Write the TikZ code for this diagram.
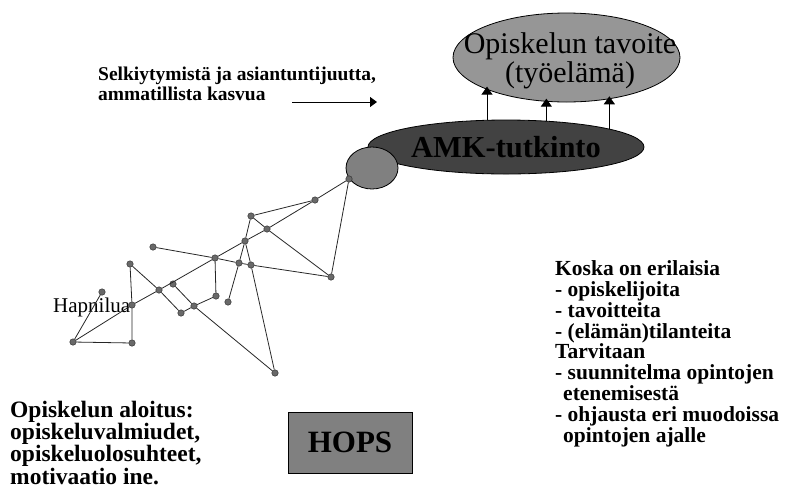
\documentclass[tikz,border=0pt]{standalone}
\usepackage{fontspec}
\setmainfont{Liberation Serif}
\usepackage{xcolor}
\usepackage{tikz}
\usetikzlibrary{shapes,arrows.meta,positioning}

\definecolor{goalgray}{RGB}{150,150,150}
\definecolor{degreegray}{RGB}{66,66,66}
\definecolor{midgray}{RGB}{128,128,128}
\definecolor{dotgray}{RGB}{105,105,105}

\tikzset{
    netdot/.style={circle, draw=black!85, fill=dotgray, inner sep=0pt, minimum size=6.5pt},
    link/.style={draw=black!85, line width=0.8pt},
    uparrow/.style={line width=1pt, shorten >=-3pt, -{Triangle[length=8pt,width=11pt]}},
    notes/.style={anchor=base west, align=left, inner sep=0pt},
}

\begin{document}
\begin{tikzpicture}[x=1pt, y=-1pt]
    \useasboundingbox (0,0) rectangle (794,499);

    % goal and degree
    \node[
        ellipse,
        draw=black,
        line width=0.8pt,
        fill=goalgray,
        minimum width=227pt,
        minimum height=89pt,
        inner sep=0pt
    ] (goal) at (566.5,57.5) {};
    \node[
        align=center,
        anchor=base,
        inner sep=0pt,
        font=\fontsize{30}{27}\selectfont
    ] (goaltext) at (570,82) {Opiskelun tavoite\\(työelämä)};

    \node[
        ellipse,
        draw=black,
        line width=0.8pt,
        fill=degreegray,
        minimum width=276pt,
        minimum height=54pt,
        inner sep=0pt,
        font=\bfseries\fontsize{30.5}{30}\selectfont
    ] (degree) at (506,147) {AMK-tutkinto};

    \draw[uparrow] (degree.125) -- (degree.125 |- goal.202);
    \draw[uparrow] (degree.33) -- (degree.33 |- goal.245);
    \draw[uparrow] (degree.10) -- (degree.10 |- goal.315);

    % start of the degree
    \node[
        ellipse,
        draw=black,
        line width=0.8pt,
        fill=midgray,
        minimum width=52pt,
        minimum height=42pt,
        inner sep=0pt
    ] (hub) at (372,168) {};

    % growth
    \node[notes, font=\bfseries\fontsize{19.5}{20.7}\selectfont] (growth) at (98,100.7)
        {Selkiytymistä ja asiantuntijuutta,\\ammatillista kasvua};
    \coordinate (growstart) at (292,102);
    \coordinate (growend) at (377,102);
    \draw[line width=1pt, -{Triangle[length=7pt,width=10pt]}] (growstart) -- (growend);

    \node[notes, font=\fontsize{21}{21}\selectfont] (fumble) at (53,312) {Hapnilua};

    % network of paths
    \foreach \n/\x/\y in {a/349/179, b/315/200, c/251/216, d/267/229, e/245/241,
                          f/153/247, g/215/258, h/239/263, i/251/265, j/331/277,
                          k/130/264, l/173/284, m/159/290, n/216/296, o/228/302,
                          p/102/292, q/132/305, r/194/306, s/181/313, t/73/342,
                          u/132/343, v/275/373}
        \node[netdot] (\n) at (\x,\y) {};

    \draw[link] (t) -- (q) -- (m) -- (g) -- (e) -- (d) -- (b) -- (a);
    \draw[link] (t) -- (u) -- (q) -- (k);
    \draw[link] (t) -- (p);
    \draw[link] (k) -- (m) -- (s) -- (r) -- (n) -- (g);
    \draw[link] (l) -- (r) -- (v);
    \draw[link] (f) -- (g) -- (h) -- (i) -- (j) -- (a);
    \draw[link] (c) -- (b);
    \draw[link] (c) -- (d) -- (j);
    \draw[link] (c) -- (e) -- (h) -- (o);
    \draw[link] (e) -- (i) -- (v);

    % start and plan
    \node[notes, font=\bfseries\fontsize{23.5}{21.3}\selectfont] (start) at (10,484)
        {Opiskelun aloitus:\\opiskeluvalmiudet,\\opiskeluolosuhteet,\\motivaatio ine.};

    \node[
        draw=black,
        line width=1pt,
        fill=midgray,
        minimum width=124pt,
        minimum height=61pt,
        inner sep=0pt,
        font=\bfseries\fontsize{31}{31}\selectfont
    ] (hops) at (350,442.5) {HOPS};

    \node[notes, font=\bfseries\fontsize{21.5}{20.8}\selectfont] (reasons) at (555,442)
        {Koska on erilaisia\\- opiskelijoita\\- tavoitteita\\- (elämän)tilanteita\\Tarvitaan\\
         - suunnitelma opintojen\\\hspace*{8pt}etenemisestä\\- ohjausta eri muodoissa\\\hspace*{8pt}opintojen ajalle};
\end{tikzpicture}
\end{document}
